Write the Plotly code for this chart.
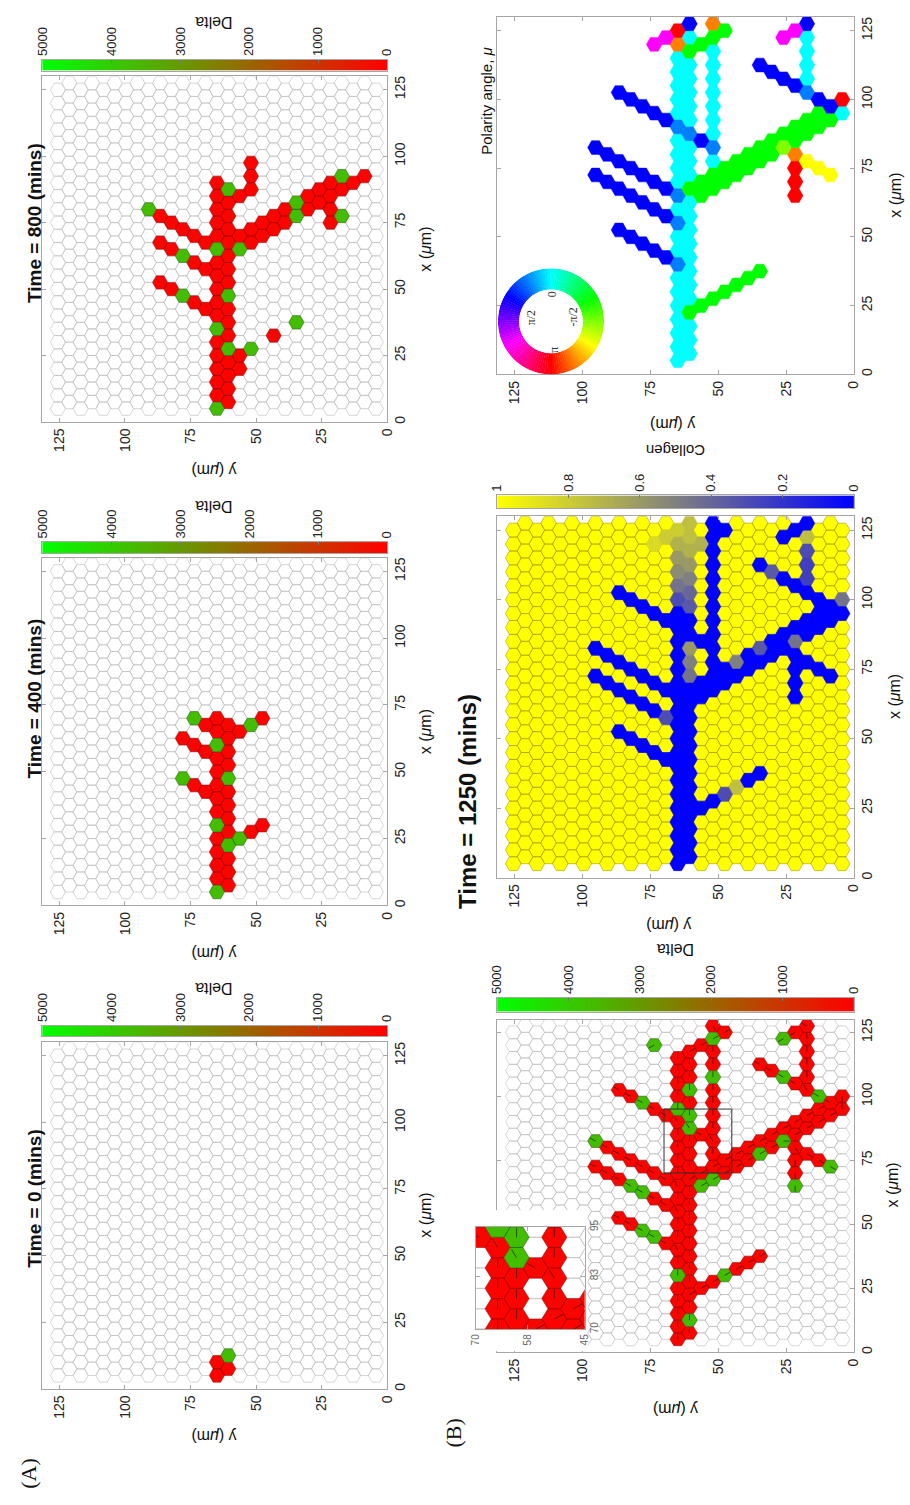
import colorsys
import numpy as np
import plotly.graph_objects as go
from plotly.colors import sample_colorscale

W, H = 910, 1505
SANS = "Liberation Sans, Arial, sans-serif"
SERIF = "Liberation Serif, Times New Roman, serif"

# ---------------- lattice ----------------
CELL = 5.0            # centre spacing along x (um)
N_COLS = 29           # columns along y
N_ROWS = 25           # cells per column
TICKS = [0, 25, 50, 75, 100, 125]

# ---------------- data (column index j, x in um) ----------------
# Panel A, Time = 0
A1_RUNS = [(14, 5, 10), (13, 7.5, 7.5)]
A1_GREEN = [(13, 12.5)]

# Panel A, Time = 400
A2_RUNS = [(14, 5, 70), (13, 7.5, 67.5), (15, 67.5, 67.5), (16, 70, 70),
           (15, 57.5, 57.5), (16, 60, 60), (17, 62.5, 62.5),
           (15, 42.5, 42.5), (16, 45, 45), (17, 47.5, 47.5),
           (12, 25, 25), (11, 27.5, 27.5), (10, 30, 30),
           (12, 65, 65), (11, 67.5, 67.5), (10, 70, 70)]
A2_GREEN = [(14, 5), (13, 22.5), (12, 25), (14, 30), (13, 47.5), (17, 47.5),
            (14, 60), (16, 70), (11, 67.5)]

# Panel A, Time = 800
A3_RUNS = [(14, 5, 90), (13, 7.5, 87.5), (12, 20, 25), (11, 27.5, 27.5),
           (9, 32.5, 32.5), (7, 37.5, 37.5),
           (15, 42.5, 42.5), (16, 45, 45), (17, 47.5, 47.5), (18, 50, 50), (19, 52.5, 52.5),
           (15, 57.5, 57.5), (16, 60, 60), (17, 62.5, 62.5), (18, 65, 65), (19, 67.5, 67.5),
           (15, 67.5, 67.5), (16, 70, 70), (17, 72.5, 72.5), (18, 75, 75), (19, 77.5, 77.5),
           (20, 80, 80),
           (12, 65, 70), (11, 67.5, 72.5), (10, 70, 75), (9, 72.5, 77.5), (8, 75, 80),
           (7, 77.5, 82.5), (6, 80, 85), (5, 82.5, 87.5), (4, 85, 90), (3, 87.5, 92.5),
           (2, 90, 90), (1, 92.5, 92.5),
           (4, 75, 80), (3, 77.5, 77.5),
           (12, 85, 85), (11, 87.5, 97.5)]
A3_GREEN = [(14, 5), (13, 27.5), (11, 27.5), (14, 35), (17, 47.5), (13, 47.5),
            (17, 62.5), (14, 65), (12, 65), (20, 80), (13, 87.5), (7, 82.5),
            (7, 77.5), (3, 77.5), (3, 92.5), (7, 37.5)]

# Panel B, Time = 1250 : network with polarity code k (angle = k*pi/6)
NET_RUNS = [
    (14, 5, 35, 0), (14, 40, 40, 1), (14, 45, 50, 0), (14, 55, 55, 1), (14, 60, 60, 0),
    (14, 65, 65, 1), (14, 70, 85, 0), (14, 90, 90, 1), (14, 95, 115, 0),
    (14, 120, 120, -5), (14, 125, 125, 6),
    (13, 7.5, 17.5, 0), (13, 22.5, 22.5, -2), (13, 27.5, 62.5, 0), (13, 67.5, 67.5, -2),
    (13, 72.5, 82.5, 0), (13, 87.5, 87.5, 1), (13, 92.5, 112.5, 0),
    (13, 117.5, 117.5, -2), (13, 122.5, 122.5, 0), (13, 127.5, 127.5, 2),
    (15, 122.5, 122.5, 4), (16, 120, 120, 4),
    (12, 120, 120, -2), (11, 122.5, 122.5, -2), (10, 125, 125, -2), (11, 127.5, 127.5, -5),
    (11, 77.5, 77.5, 0), (11, 82.5, 82.5, 1), (11, 87.5, 117.5, 0), (12, 85, 85, 2),
    (15, 42.5, 42.5, 2), (16, 45, 45, 2), (17, 47.5, 47.5, 2), (18, 50, 50, 2), (19, 52.5, 52.5, 2),
    (15, 57.5, 57.5, 2), (16, 60, 60, 2), (17, 62.5, 62.5, 2), (18, 65, 65, 2),
    (19, 67.5, 67.5, 2), (20, 70, 70, 2), (21, 72.5, 72.5, 2),
    (15, 67.5, 67.5, 2), (16, 70, 70, 2), (17, 72.5, 72.5, 2), (18, 75, 75, 2),
    (19, 77.5, 77.5, 2), (20, 80, 80, 2), (21, 82.5, 82.5, 2),
    (15, 92.5, 92.5, 2), (16, 95, 95, 2), (17, 97.5, 97.5, 2), (18, 100, 100, 2), (19, 102.5, 102.5, 2),
    (12, 25, 25, -2), (11, 27.5, 27.5, -2), (10, 30, 30, -2), (9, 32.5, 32.5, -2),
    (8, 35, 35, -2), (7, 37.5, 37.5, -2),
    (12, 65, 70, -2), (11, 67.5, 72.5, -2), (10, 70, 75, -2), (9, 72.5, 77.5, -2),
    (8, 75, 80, -2), (7, 77.5, 82.5, -2), (6, 80, 85, -2), (5, 82.5, 82.5, -3),
    (5, 87.5, 87.5, -2), (4, 85, 90, -2), (3, 87.5, 92.5, -2), (2, 90, 95, -2),
    (1, 92.5, 92.5, -2), (1, 97.5, 97.5, 2), (0, 95, 95, 0), (0, 100, 100, 6),
    (4, 80, 80, -5), (4, 65, 75, 6), (3, 77.5, 77.5, -4), (2, 75, 75, -4), (1, 72.5, 72.5, -4),
    (2, 100, 100, 2), (3, 102.5, 102.5, 1), (4, 105, 105, 2), (5, 107.5, 107.5, 2),
    (6, 110, 110, 2), (7, 112.5, 112.5, 2),
    (3, 107.5, 122.5, 0), (3, 127.5, 127.5, 2), (4, 125, 125, 4), (5, 122.5, 122.5, 4),
]
# cells of the network that are empty in the Delta panel (B)
B1_ABSENT = [(14, 120), (14, 125), (13, 122.5), (13, 127.5), (15, 122.5)]
B1_GREEN = [(21, 82.5), (18, 65), (17, 62.5), (17, 47.5), (16, 45), (14, 30), (13, 12.5),
            (10, 30), (12, 65), (11, 67.5), (7, 77.5), (5, 82.5), (4, 65), (1, 72.5),
            (2, 100), (5, 107.5), (5, 122.5), (11, 122.5), (11, 107.5), (13, 102.5),
            (17, 97.5), (13, 87.5), (13, 92.5), (16, 120), (14, 95)]
COLL_GREY = [(13, 97.5, .35), (13, 102.5, .4), (13, 107.5, .5), (13, 112.5, .6),
             (13, 117.5, .7), (13, 122.5, .75), (13, 127.5, .75),
             (14, 100, .3), (14, 105, .45), (14, 110, .55), (14, 115, .6), (14, 120, .7),
             (14, 125, .8), (15, 122.5, .8), (16, 120, .85), (12, 120, .7),
             (13, 72.5, .45), (13, 77.5, .5), (13, 82.5, .6), (15, 57.5, .3),
             (9, 32.5, .75), (10, 30, .3), (9, 77.5, .5), (7, 82.5, .35), (4, 85, .45),
             (0, 100, .45), (6, 110, .35), (3, 122.5, .75), (3, 117.5, .3),
             (3, 112.5, .25), (3, 107.5, .25)]

DELTA_RED, DELTA_GREEN = 80, 3700
DELTA_TICKS = [5000, 4000, 3000, 2000, 1000, 0]
COLL_TICKS = [1, 0.8, 0.6, 0.4, 0.2, 0]

DELTA_SCALE = [[0, "rgb(255,0,0)"], [1, "rgb(0,255,0)"]]
COLL_SCALE = [[0, "rgb(0,0,255)"], [1, "rgb(255,255,0)"]]

# ---------------- helpers ----------------
SQ3 = np.sqrt(3.0)
RAD = CELL / SQ3
ARROW = 2.3


def expand(runs):
    out = []
    for r in runs:
        j, x0, x1 = r[0], r[1], r[2]
        x = x0
        while x <= x1 + 1e-6:
            out.append((j, x) + tuple(r[3:]))
            x += CELL
    return out


def lattice():
    return [(j, 5.0 + (2.5 if j % 2 else 0.0) + CELL * i)
            for j in range(N_COLS) for i in range(N_ROWS)]


def ycol(j):
    return (j + 1) * CELL * SQ3 / 2


def hex_xy(cells):
    xs, ys = [], []
    for c in cells:
        j, x = c[0], c[1]
        yc = ycol(j)
        xs += [yc + RAD, yc + RAD / 2, yc - RAD / 2, yc - RAD, yc - RAD / 2, yc + RAD / 2, yc + RAD, None]
        ys += [x, x + 2.5, x + 2.5, x, x - 2.5, x - 2.5, x, None]
    return xs, ys


def arrow_xy(cells):
    xs, ys = [], []
    for j, x, k in cells:
        mu = k * np.pi / 6
        yc = ycol(j)
        xs += [yc, yc + ARROW * np.sin(mu), None]
        ys += [x, x + ARROW * np.cos(mu), None]
    return xs, ys


def ax_ids(n):
    return ("x" if n == 1 else f"x{n}"), ("y" if n == 1 else f"y{n}")


fig = go.Figure()


def add_cells(n, cells, fill, line, width=0.6):
    if not cells:
        return
    xa, ya = ax_ids(n)
    xs, ys = hex_xy(cells)
    fig.add_trace(go.Scatter(x=xs, y=ys, mode="lines", fill="toself", fillcolor=fill,
                             line=dict(color=line, width=width), xaxis=xa, yaxis=ya,
                             hoverinfo="skip", showlegend=False))


def add_grid(n):
    xa, ya = ax_ids(n)
    xs, ys = hex_xy(lattice())
    fig.add_trace(go.Scatter(x=xs, y=ys, mode="lines", line=dict(color="#bababa", width=0.6),
                             xaxis=xa, yaxis=ya, hoverinfo="skip", showlegend=False))


def delta_color(v):
    return sample_colorscale(DELTA_SCALE, [v / 5000.0])[0]


def coll_color(v):
    return sample_colorscale(COLL_SCALE, [v])[0]


def hsv_rgb(h):
    r, g, b = colorsys.hsv_to_rgb(h % 1.0, 1, 1)
    return f"rgb({int(r*255)},{int(g*255)},{int(b*255)})"


def pol_color(k):
    return hsv_rgb(((k / 6.0) + 1.0) / 2.0)


def delta_panel(n, cells, greens, arrows=None):
    gset = set(greens)
    reds = [c for c in cells if (c[0], c[1]) not in gset]
    grs = [c for c in cells if (c[0], c[1]) in gset]
    add_grid(n)
    add_cells(n, reds, delta_color(DELTA_RED), "rgba(120,0,0,0.6)")
    add_cells(n, grs, delta_color(DELTA_GREEN), "rgba(20,70,10,0.6)")
    if arrows:
        xa, ya = ax_ids(n)
        xs, ys = arrow_xy(arrows)
        fig.add_trace(go.Scatter(x=xs, y=ys, mode="lines", line=dict(color="rgba(20,20,20,0.8)", width=0.8),
                                 xaxis=xa, yaxis=ya, hoverinfo="skip", showlegend=False))


# ---- panel A ----
delta_panel(1, expand(A1_RUNS) + A1_GREEN, A1_GREEN)
delta_panel(2, expand(A2_RUNS), A2_GREEN)
delta_panel(3, expand(A3_RUNS), A3_GREEN)

net = expand(NET_RUNS)
net_keys = set((c[0], c[1]) for c in net)

# ---- B3 polarity ----
groups = {}
for j, x, k in net:
    groups.setdefault(k, []).append((j, x))
for k, cells in groups.items():
    add_cells(4, cells, pol_color(k), pol_color(k), 0.5)

# ---- B2 collagen ----
grey = {(j, x): v for j, x, v in COLL_GREY}
cgroups = {}
for c in lattice():
    key = (c[0], c[1])
    if key in grey:
        v = grey[key]
    elif key in net_keys:
        v = 0.0
    else:
        v = 1.0
    cgroups.setdefault(v, []).append(c)
for v, cells in sorted(cgroups.items(), key=lambda t: -t[0]):
    col = coll_color(v)
    add_cells(5, cells, col, "#a59d00" if v == 1.0 else col, 0.6)

# ---- B1 delta + white box + inset ----
absent = set(B1_ABSENT)
b1_cells = [c for c in net if (c[0], c[1]) not in absent]
delta_panel(6, b1_cells, B1_GREEN, arrows=b1_cells)
xa7, ya7 = ax_ids(7)
fig.add_trace(go.Scatter(x=[None], y=[None], xaxis=xa7, yaxis=ya7, showlegend=False, hoverinfo="skip"))
delta_panel(8, b1_cells, B1_GREEN, arrows=b1_cells)

# ---- colour bars drawn as thin heatmap strips (subplots 9..13) ----
DELTA_RAMP = np.linspace(0, 5000, 256)
COLL_RAMP = np.linspace(0, 1, 256)
CBARS = {  # n: (kind, left, right, top, bottom)
    9: ("delta", 35, 386, 1026, 1037),
    10: ("delta", 35, 386, 539, 550),
    11: ("delta", 35, 386, 53, 64),
    12: ("delta", 498, 861, 998, 1012),
    13: ("coll", 498, 861, 492, 505),
}
for n, (kind, l, r, t, b) in CBARS.items():
    xa, ya = ax_ids(n)
    if kind == "delta":
        fig.add_trace(go.Heatmap(z=[DELTA_RAMP], x=DELTA_RAMP, y=[0.5], zmin=0, zmax=5000,
                                 colorscale=DELTA_SCALE, showscale=False, xaxis=xa, yaxis=ya,
                                 hoverinfo="skip"))
    else:
        fig.add_trace(go.Heatmap(z=[COLL_RAMP], x=COLL_RAMP, y=[0.5], zmin=0, zmax=1,
                                 colorscale=COLL_SCALE, showscale=False, xaxis=xa, yaxis=ya,
                                 hoverinfo="skip"))

# ---- polarity colour wheel ----
N_SEG = 120
theta = [i * 360.0 / N_SEG for i in range(N_SEG)]
wheel_cols = [hsv_rgb((np.deg2rad(t) + np.pi) / (2 * np.pi)) for t in theta]
fig.add_trace(go.Barpolar(r=[1] * N_SEG, theta=theta, width=[360.0 / N_SEG + 0.5] * N_SEG,
                          marker=dict(color=wheel_cols, line=dict(width=0)),
                          subplot="polar", hoverinfo="skip", showlegend=False))

# ---------------- layout ----------------
BOXES = {  # left, right, top, bottom in pixels
    1: (35, 386, 1043, 1392),
    2: (35, 386, 555, 905),
    3: (35, 386, 70, 418),
    4: (498, 861, 10, 370),
    5: (498, 861, 513, 877),
    6: (498, 861, 1020, 1355),
    7: (468, 590, 1212, 1354),
    8: (476, 587, 1229, 1332),
}

layout = dict(width=W, height=H, margin=dict(l=0, r=0, t=0, b=0),
              paper_bgcolor="white", plot_bgcolor="white", showlegend=False,
              font=dict(family=SANS, color="#222"))


def akeys(n):
    return ("xaxis" if n == 1 else f"xaxis{n}"), ("yaxis" if n == 1 else f"yaxis{n}")


for n, (l, r, t, b) in BOXES.items():
    xk, yk = akeys(n)
    xa, ya = ax_ids(n)
    xd = [l / W, r / W]
    yd = [1 - b / H, 1 - t / H]
    if n == 7:
        layout[xk] = dict(domain=xd, anchor=ya, visible=False, range=[0, 1])
        layout[yk] = dict(domain=yd, anchor=xa, visible=False, range=[0, 1])
        continue
    if n == 8:
        xr, yr = [70, 45], [70, 95]
        xt, yt = [70, 58, 45], [70, 83, 95]
        fs = 10
    else:
        xr, yr = [131.5, 0], [0, 130]
        xt, yt = TICKS, TICKS
        fs = 14
    common = dict(showgrid=False, zeroline=False, showline=True, mirror="ticks",
                  linecolor="#a6a6a6", linewidth=1, ticks="inside", ticklen=4,
                  tickcolor="#a6a6a6", tickangle=-90,
                  tickfont=dict(size=fs, family=SANS, color="#222" if n != 8 else "#666"))
    layout[xk] = dict(domain=xd, anchor=ya, range=xr, tickvals=xt, ticktext=[str(v) for v in xt],
                      side="bottom", **common)
    layout[yk] = dict(domain=yd, anchor=xa, range=yr, tickvals=yt, ticktext=[str(v) for v in yt],
                      side="right", **common)

for n, (kind, l, r, t, b) in CBARS.items():
    xk, yk = akeys(n)
    xa, ya = ax_ids(n)
    if kind == "delta":
        xr, tv = [5000, 0], DELTA_TICKS
    else:
        xr, tv = [1, 0], COLL_TICKS
    layout[xk] = dict(domain=[l / W, r / W], anchor=ya, range=xr, tickvals=tv,
                      ticktext=[str(v) for v in tv], side="top", tickangle=-90,
                      ticks="inside", ticklen=3, tickcolor="#777", showline=True, mirror=True,
                      linecolor="#a6a6a6", linewidth=1, showgrid=False, zeroline=False,
                      tickfont=dict(size=13, family=SANS, color="#222"))
    layout[yk] = dict(domain=[1 - b / H, 1 - t / H], anchor=xa, range=[0, 1], showline=True,
                      mirror=True, linecolor="#a6a6a6", linewidth=1, showticklabels=False,
                      ticks="", showgrid=False, zeroline=False)

cx, cy, rad = 552.7, 316.7, 54
layout["polar"] = dict(domain=dict(x=[(cx - rad) / W, (cx + rad) / W], y=[1 - (cy + rad) / H, 1 - (cy - rad) / H]),
                       hole=0.6, bgcolor="rgba(0,0,0,0)",
                       angularaxis=dict(rotation=90, direction="counterclockwise", visible=False),
                       radialaxis=dict(visible=False, range=[0, 1]))


def ann(text, x, y, size, angle, bold=False, family=SANS, color="#111"):
    if bold:
        text = f"<b>{text}</b>"
    return dict(text=text, x=x / W, y=1 - y / H, xref="paper", yref="paper", xanchor="center",
                yanchor="middle", textangle=angle, showarrow=False,
                font=dict(size=size, family=family, color=color))


UM = "(<i>μ</i>m)"
anns = [
    ann("Time = 0 (mins)", 27, 1200, 19, -90, True),
    ann("Time = 400 (mins)", 27, 697, 19, -90, True),
    ann("Time = 800 (mins)", 27, 218, 19, -90, True),
    ann("Time = 1250 (mins)", 467, 800, 24, -90, True),
    ann("Polarity angle, <i>μ</i>", 487, 95, 15, -90),
    ann("(A)", 21, 1477, 22, -90, family=SERIF),
    ann("(B)", 453, 1437, 22, -90, family=SERIF),
]
for yc in (1217, 730, 244):
    anns.append(ann("x " + UM, 425, yc, 16, -90))
for xc, yc in ((900, 1187), (903, 695), (903, 190)):
    anns.append(ann("x " + UM, xc, yc, 16, -90))
for xc, yc in ((210, 1440), (210, 954), (210, 467), (680, 1413), (673, 926), (677, 420)):
    anns.append(ann("y " + UM, xc, yc, 16, 180))
for xc, yc in ((210, 988), (210, 503), (210, 15), (680, 950)):
    anns.append(ann("Delta", xc, yc, 16, 180))
anns.append(ann("Collagen", 680, 447, 15, 180))
for t, xc, yc in (("0", 554, 289), ("π/2", 532, 313), ("-π/2", 575, 312), ("π", 556, 345)):
    anns.append(ann(t, xc, yc, 12, -90, family=SERIF, color="#333"))
layout["annotations"] = anns

# inset rectangle on the main B1 panel
layout["shapes"] = [dict(type="rect", xref="x6", yref="y6", x0=70, x1=45, y0=70, y1=95,
                         line=dict(color="#333", width=1))]

fig.update_layout(**layout)
fig.write_html("out.html")
